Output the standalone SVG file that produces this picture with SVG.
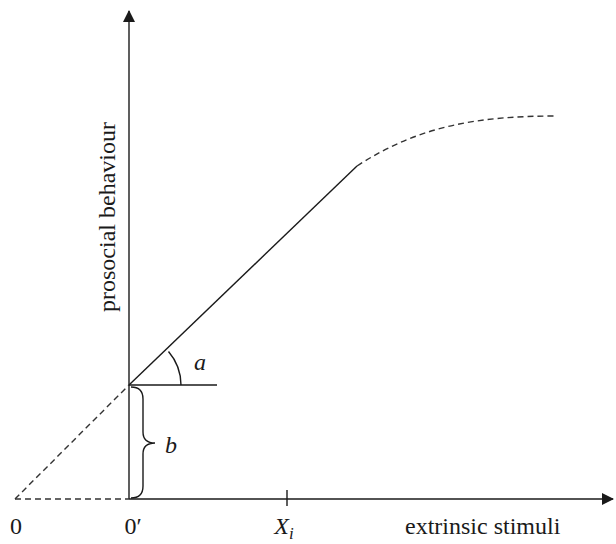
<svg xmlns="http://www.w3.org/2000/svg" width="616" height="544" viewBox="0 0 616 544">
<style>
.ln{stroke:#1a1a1a;stroke-width:1.4;fill:none}
.ds{stroke:#333;stroke-width:1.4;fill:none;stroke-dasharray:6 4}
.t{font-family:"Liberation Serif","Times New Roman",serif;font-size:24px;fill:#1a1a1a}
.it{font-style:italic}
</style>
<defs>
<marker id="ah" viewBox="0 0 12 12" refX="11" refY="6" markerWidth="12" markerHeight="12" markerUnits="userSpaceOnUse" orient="auto">
<path d="M0,0 L12,6 L0,12 Z" fill="#1a1a1a"/>
</marker>
</defs>
<g id="connectors">
<line class="ln" x1="129" y1="499" x2="129" y2="11" marker-end="url(#ah)"/>
<line class="ln" x1="129" y1="499" x2="613" y2="499" marker-end="url(#ah)"/>
<line class="ds" x1="15" y1="499" x2="129" y2="499"/>
<line class="ds" x1="15" y1="499" x2="129" y2="385"/>
<line class="ln" x1="129" y1="385" x2="357" y2="166"/>
<path class="ds" d="M357,166 C420,125 480,116 557,116"/>
<line class="ln" x1="129" y1="385" x2="217" y2="385"/>
<path class="ln" d="M181,385 A52,52 0 0 0 168.5,351.5"/>
<path class="ln" d="M131,387 Q143,387 143,399 L143,432 Q143,443 155,443 Q143,443 143,454 L143,486 Q143,498 131,498"/>
<line class="ln" x1="287" y1="490" x2="287" y2="506"/>
</g>
<g id="labels">
<text class="t it" x="200" y="370" text-anchor="middle">a</text>
<text class="t it" x="171" y="453" text-anchor="middle">b</text>
<text class="t" x="16" y="534" text-anchor="middle">0</text>
<text class="t" x="133" y="534" text-anchor="middle">0′</text>
<text class="t it" x="284" y="534" text-anchor="middle">X<tspan font-size="17" dy="5">i</tspan></text>
<text class="t" x="405" y="534">extrinsic stimuli</text>
<text class="t" transform="translate(115,217) rotate(-90)" text-anchor="middle">prosocial behaviour</text>
</g>
</svg>
